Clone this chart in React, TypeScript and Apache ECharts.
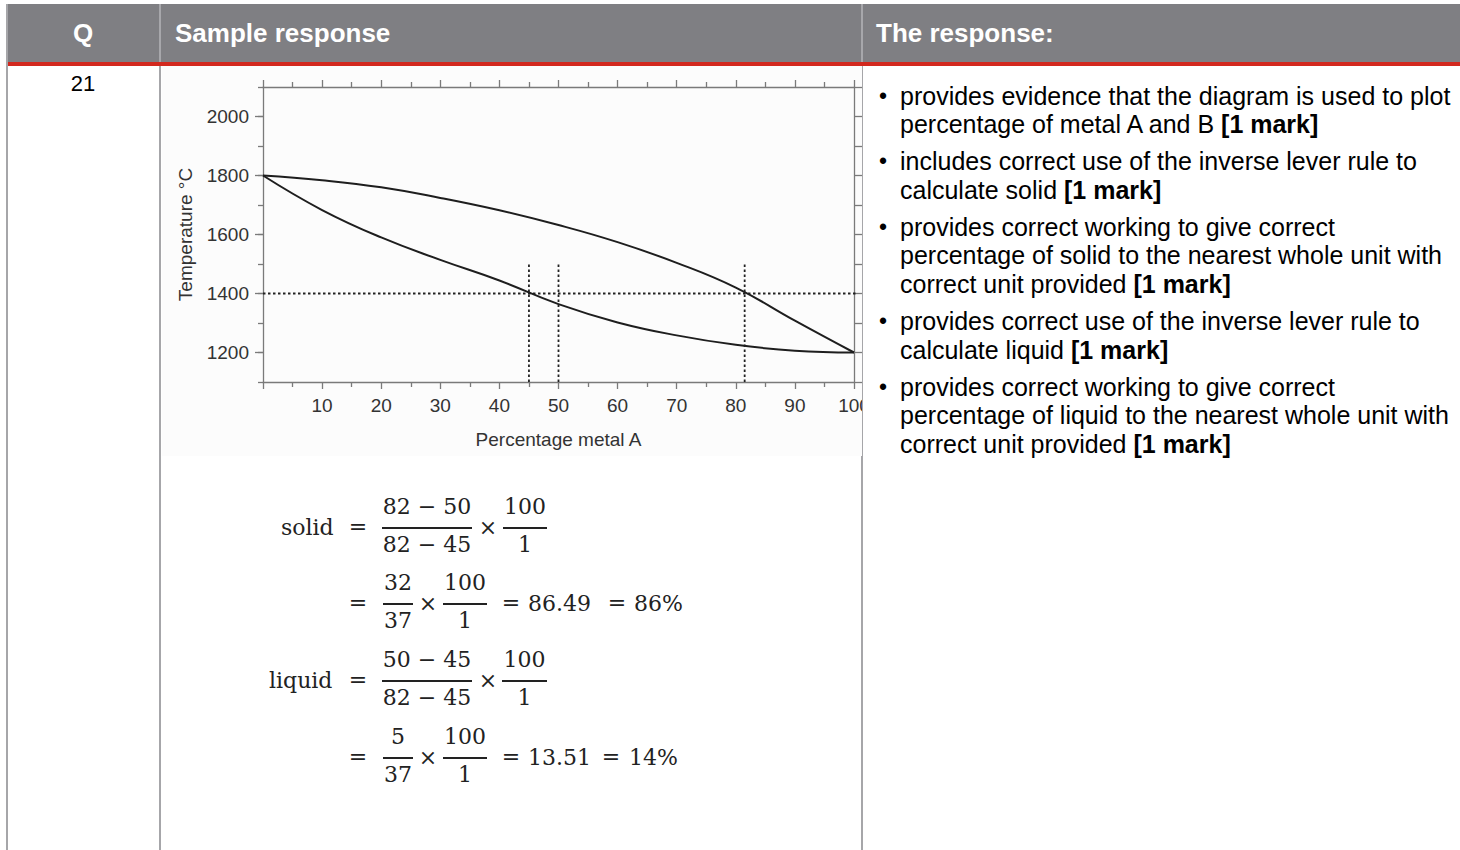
import React, { useEffect, useRef } from "react";
import * as echarts from "echarts";

// ---- chart data ----
const pct = [0, 10, 20, 30, 40, 50, 60, 70, 80, 90, 100];
const liquidus = [1800, 1784, 1760, 1724, 1682, 1632, 1574, 1504, 1420, 1308, 1200];
const solidus = [1800, 1683, 1590, 1514, 1444, 1364, 1302, 1258, 1226, 1206, 1200];
const tieTemp = 1400;
const tieStart = 0;
const tieEnd = 102;
const tieXs = [45, 50, 81.5];
const tieTop = 1500;
const yLabelValues = [1200, 1400, 1600, 1800, 2000];

// ---- table texts ----
const headerQ = "Q";
const headerSample = "Sample response";
const headerResp = "The response:";
const qNumber = "21";
const bullets: { lines: string[]; mark: string }[] = [
  { lines: ["provides evidence that the diagram is used to plot", "percentage of metal A and B "], mark: "[1 mark]" },
  { lines: ["includes correct use of the inverse lever rule to", "calculate solid "], mark: "[1 mark]" },
  { lines: ["provides correct working to give correct", "percentage of solid to the nearest whole unit with", "correct unit provided "], mark: "[1 mark]" },
  { lines: ["provides correct use of the inverse lever rule to", "calculate liquid "], mark: "[1 mark]" },
  { lines: ["provides correct working to give correct", "percentage of liquid to the nearest whole unit with", "correct unit provided "], mark: "[1 mark]" },
];

const AXIS_COLOR = "#7a7a7a";
const LABEL_COLOR = "#333333";
const SANS = "'Liberation Sans', Arial, sans-serif";
const SERIF = "'DejaVu Serif', serif";

function Chart() {
  const ref = useRef<HTMLDivElement>(null);
  useEffect(() => {
    if (!ref.current) return;
    const chart = echarts.init(ref.current, undefined, { renderer: "svg" });
    const curve = (vals: number[]) => pct.map((x, i) => [x, vals[i]]);
    const dotted = { color: "#222", width: 1.8, type: [2.5, 2.5] as any };
    const series: any[] = [
      { type: "line", data: curve(liquidus), smooth: 0.45, symbol: "none", lineStyle: { color: "#1e1e1e", width: 2 }, z: 3 },
      { type: "line", data: curve(solidus), smooth: 0.45, symbol: "none", lineStyle: { color: "#1e1e1e", width: 2 }, z: 3 },
      { type: "line", data: [[tieStart, tieTemp], [tieEnd, tieTemp]], clip: false, symbol: "none", lineStyle: dotted, z: 2 },
    ];
    tieXs.forEach((x) => {
      series.push({ type: "line", data: [[x, 1100], [x, tieTop]], symbol: "none", lineStyle: dotted, z: 2 });
    });
    const baseX = {
      type: "value",
      min: 0,
      max: 100,
      interval: 10,
      splitLine: { show: false },
      axisLine: { show: true, lineStyle: { color: AXIS_COLOR, width: 1.3 } },
      axisTick: { show: true, inside: false, length: 7, lineStyle: { color: AXIS_COLOR, width: 1.3 } },
      minorTick: { show: true, splitNumber: 2, length: 5, lineStyle: { color: AXIS_COLOR, width: 1.3 } },
      minorSplitLine: { show: false },
    };
    const baseY = {
      type: "value",
      min: 1100,
      max: 2100,
      interval: 100,
      splitLine: { show: false },
      axisLine: { show: true, lineStyle: { color: AXIS_COLOR, width: 1.3 } },
      axisTick: { show: true, inside: false, length: 5, lineStyle: { color: AXIS_COLOR, width: 1.3 } },
    };
    chart.setOption({
      animation: false,
      backgroundColor: "#fcfcfc",
      grid: { left: 101, right: 8, top: 21, bottom: 74, containLabel: false, outerBoundsMode: "none" },
      xAxis: [
        {
          ...baseX,
          position: "bottom",
          axisLabel: {
            show: true,
            margin: 14,
            fontSize: 19,
            color: LABEL_COLOR,
            fontFamily: SANS,
            hideOverlap: false,
            alignMinLabel: "center",
            alignMaxLabel: "center",
            formatter: (v: number) => (v === 0 ? "" : String(v)),
          },
          name: "Percentage metal A",
          nameLocation: "middle",
          nameGap: 48,
          nameTextStyle: { fontSize: 19, color: LABEL_COLOR, fontFamily: SANS },
        },
        { ...baseX, position: "top", axisLabel: { show: false } },
      ],
      yAxis: [
        {
          ...baseY,
          position: "left",
          axisLabel: {
            show: true,
            margin: 14,
            fontSize: 19,
            color: LABEL_COLOR,
            fontFamily: SANS,
            formatter: (v: number) => (yLabelValues.indexOf(v) >= 0 ? String(v) : ""),
          },
          name: "Temperature °C",
          nameLocation: "middle",
          nameGap: 68,
          nameTextStyle: { fontSize: 19, color: LABEL_COLOR, fontFamily: SANS },
        },
        {
          ...baseY,
          position: "left",
          axisLine: { show: false },
          axisTick: { show: true, length: 8, customValues: yLabelValues, lineStyle: { color: AXIS_COLOR, width: 1.3 } },
          axisLabel: { show: false },
        },
        {
          ...baseY,
          position: "right",
          axisTick: { show: true, inside: false, length: 8, lineStyle: { color: AXIS_COLOR, width: 1.3 } },
          axisLabel: { show: false },
        },
      ],
      series,
    });
    return () => chart.dispose();
  }, []);
  return <div ref={ref} style={{ position: "absolute", left: 162, top: 66, width: 700, height: 390, overflow: "hidden" }} />;
}

// absolutely positioned text piece, centered at cx (or starting at left), baseline at by
function T({ cx, left, by, text, size = 22, family = SERIF, weight = 400, color = "#222" }: any) {
  const top = by - size * 0.85;
  const style: any = {
    position: "absolute",
    top,
    fontSize: size,
    lineHeight: `${size}px`,
    fontFamily: family,
    fontWeight: weight,
    color,
    whiteSpace: "pre",
  };
  if (cx !== undefined) {
    style.left = cx;
    style.transform = "translateX(-50%)";
  } else style.left = left;
  return <div style={style}>{text}</div>;
}

function Bar({ x1, x2, y }: any) {
  return <div style={{ position: "absolute", left: x1, top: y - 0.8, width: x2 - x1, height: 1.6, background: "#222" }} />;
}

function Frac({ x1, x2, y, num, den }: any) {
  const cx = (x1 + x2) / 2;
  return (
    <>
      <T cx={cx} by={y - 13} text={num} />
      <Bar x1={x1} x2={x2} y={y} />
      <T cx={cx} by={y + 25} text={den} />
    </>
  );
}

function Formulas() {
  const eqX = 358;
  const axisOff = 7; // math axis above baseline
  return (
    <>
      {/* solid */}
      <T left={281} by={536} text="solid" />
      <T cx={eqX} by={528 + axisOff} text="=" />
      <Frac x1={382} x2={472} y={528} num={"82 − 50"} den={"82 − 45"} />
      <T cx={488} by={529 + axisOff} text="×" />
      <Frac x1={503} x2={547} y={528} num="100" den="1" />
      {/* = 32/37 */}
      <T cx={eqX} by={604 + axisOff} text="=" />
      <Frac x1={383} x2={413} y={604} num="32" den="37" />
      <T cx={428} by={605 + axisOff} text="×" />
      <Frac x1={443} x2={487} y={604} num="100" den="1" />
      <T cx={511} by={604 + axisOff} text="=" />
      <T left={528} by={612} text="86.49" />
      <T cx={617} by={604 + axisOff} text="=" />
      <T left={634} by={612} text="86%" />
      {/* liquid */}
      <T left={269} by={689} text="liquid" />
      <T cx={eqX} by={681 + axisOff} text="=" />
      <Frac x1={382} x2={472} y={681} num={"50 − 45"} den={"82 − 45"} />
      <T cx={488} by={682 + axisOff} text="×" />
      <Frac x1={502} x2={547} y={681} num="100" den="1" />
      {/* = 5/37 */}
      <T cx={eqX} by={758 + axisOff} text="=" />
      <Frac x1={383} x2={413} y={758} num="5" den="37" />
      <T cx={428} by={759 + axisOff} text="×" />
      <Frac x1={443} x2={487} y={758} num="100" den="1" />
      <T cx={511} by={758 + axisOff} text="=" />
      <T left={528} by={766} text="13.51" />
      <T cx={611} by={758 + axisOff} text="=" />
      <T left={629} by={766} text="14%" />
    </>
  );
}

function Bullets() {
  const items: any[] = [];
  let y = 81.5;
  const lh = 28.5;
  const fs = 25;
  bullets.forEach((b, bi) => {
    items.push(
      <div key={"d" + bi} style={{ position: "absolute", left: 879, top: y, fontSize: 23, lineHeight: `${lh}px`, fontFamily: SANS, color: "#000" }}>•</div>
    );
    b.lines.forEach((ln, li) => {
      const last = li === b.lines.length - 1;
      items.push(
        <div key={bi + "-" + li} style={{ position: "absolute", left: 900, top: y + li * lh, fontSize: fs, lineHeight: `${lh}px`, fontFamily: SANS, color: "#000", whiteSpace: "pre" }}>
          {ln}
          {last ? <b>{b.mark}</b> : null}
        </div>
      );
    });
    y += b.lines.length * lh + 8.7;
  });
  return <>{items}</>;
}

export default function App() {
  useEffect(() => {
    document.body.style.margin = "0";
  }, []);
  const abs = (s: any) => ({ position: "absolute", ...s } as any);
  const head = { fontSize: 26, lineHeight: "30px", fontWeight: 700, color: "#fff", top: 18, whiteSpace: "pre" };
  return (
    <div style={abs({ left: 0, top: 0, width: 1460, height: 850, overflow: "hidden", background: "#fff", fontFamily: SANS })}>
      {/* header */}
      <div style={abs({ left: 7, top: 4, width: 1453, height: 58, background: "#7f7f83" })} />
      <div style={abs({ left: 159, top: 4, width: 1.5, height: 58, background: "#a7a7ab" })} />
      <div style={abs({ left: 861, top: 4, width: 1.5, height: 58, background: "#a7a7ab" })} />
      <div style={abs({ left: 7, top: 62, width: 1453, height: 4, background: "#d2281e" })} />
      {/* body lines */}
      <div style={abs({ left: 6, top: 4, width: 2, height: 846, background: "#a6a6a9" })} />
      <div style={abs({ left: 159, top: 66, width: 2, height: 784, background: "#a6a6a9" })} />
      <div style={abs({ left: 861, top: 66, width: 2, height: 784, background: "#a6a6a9" })} />
      {/* header text */}
      <div style={abs({ ...head, left: 83, transform: "translateX(-50%)" })}>{headerQ}</div>
      <div style={abs({ ...head, left: 175 })}>{headerSample}</div>
      <div style={abs({ ...head, left: 876 })}>{headerResp}</div>
      {/* question number */}
      <div style={abs({ left: 83, top: 71, transform: "translateX(-50%)", fontSize: 22, lineHeight: "26px", color: "#000" })}>{qNumber}</div>
      <Chart />
      <Formulas />
      <Bullets />
    </div>
  );
}
